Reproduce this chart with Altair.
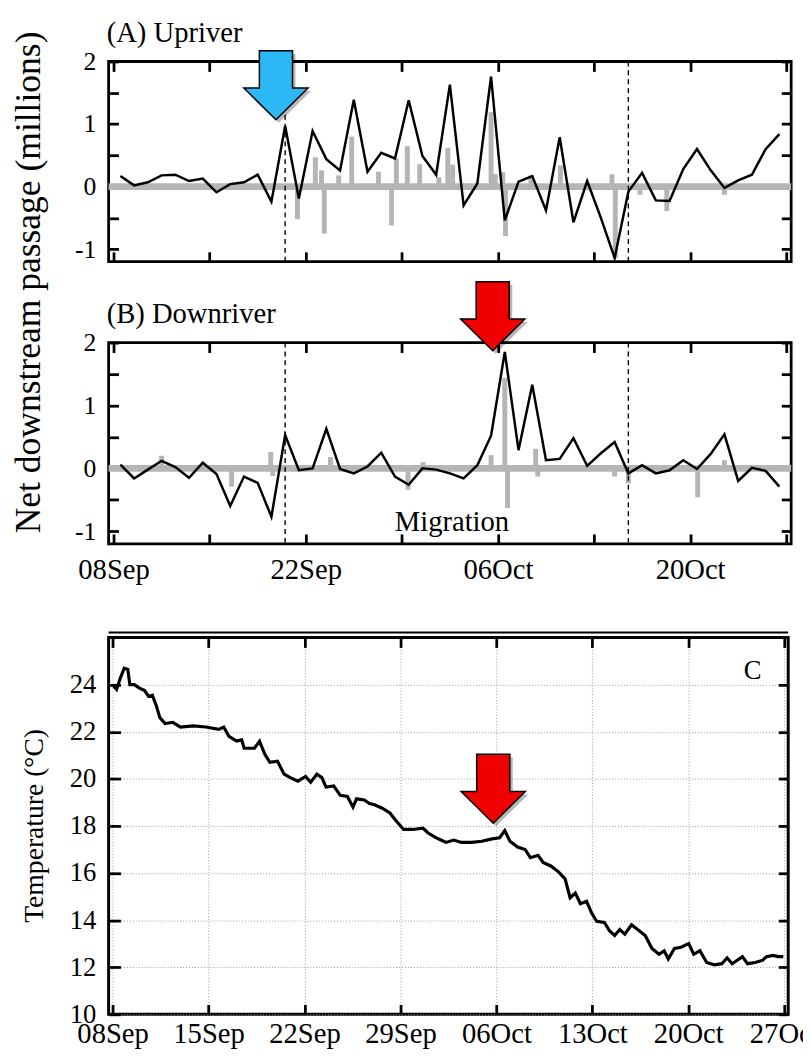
import altair as alt
import pandas as pd

FONT = "Liberation Serif"
GRAY = "#b5b5b5"
BASE = pd.Timestamp("2012-09-08")

# ---------------- data ----------------
# net downstream passage (millions), one value per day at noon, 08 Sep .. 26 Oct
upriver = [0.17, 0.02, 0.07, 0.18, 0.19, 0.09, 0.13, -0.09, 0.04, 0.07,
           0.19, -0.24, 0.97, -0.19, 0.89, 0.44, 0.26, 1.39, 0.24, 0.54,
           0.45, 1.38, 0.49, 0.19, 1.63, -0.30, 0.05, 1.76, -0.54, 0.08,
           0.17, -0.38, 0.79, -0.57, 0.09, -0.50, -1.14, -0.08, 0.22, -0.22,
           -0.23, 0.28, 0.60, 0.26, -0.02, 0.10, 0.19, 0.60, 0.84]
downriver = [0.06, -0.16, -0.02, 0.12, 0.02, -0.15, 0.09, -0.09, -0.60, -0.13,
             -0.23, -0.77, 0.53, -0.03, 0.00, 0.63, -0.01, -0.08, 0.03, 0.25,
             -0.13, -0.26, 0.00, -0.02, -0.08, -0.16, 0.05, 0.52, 1.85, 0.29,
             1.33, 0.13, 0.15, 0.48, 0.04, 0.24, 0.42, -0.08, 0.05, -0.08,
             -0.03, 0.13, -0.01, 0.23, 0.54, -0.20, 0.01, -0.04, -0.29]
daily_offset = [d + 0.5 for d in range(49)]

# grey high-frequency spikes (days after 08 Sep, millions)
up_gray_day = [13.4, 14.7, 15.15, 15.35, 16.4, 17.35, 19.3, 20.25, 20.6, 21.4,
               22.3, 23.7, 24.35, 24.7, 27.5, 27.8, 28.35, 28.55, 30.4, 32.55,
               36.3, 36.55, 38.35, 40.3, 44.5]
up_gray_val = [-0.52, 0.47, 0.26, -0.75, 0.18, 0.80, 0.24, -0.62, 0.45, 0.65,
               0.36, 0.15, 0.62, 0.35, 1.19, 0.20, 0.23, -0.79, 0.18, 0.34,
               0.20, -1.14, -0.13, -0.39, -0.13]
down_gray_day = [3.5, 8.6, 11.45, 11.6, 15.8, 21.45, 22.55, 27.5, 28.5, 28.7,
                 30.75, 30.9, 36.5, 37.5, 42.55, 44.5]
down_gray_val = [0.20, -0.29, 0.26, -0.12, 0.18, -0.34, 0.10, 0.21, 1.44, -0.63,
                 0.31, -0.13, -0.13, -0.24, -0.46, 0.13]

# migration window (dashed lines), days after 08 Sep
migration_days = [12.5, 37.5]

# temperature (deg C), days after 08 Sep
temp_day = [0.0, 0.29, 0.58, 0.85, 1.11, 1.26, 1.59, 1.96, 2.34, 2.63,
            2.90, 3.19, 3.45, 3.83, 4.39, 4.95, 5.88, 6.81, 7.74, 8.11,
            8.49, 9.05, 9.42, 9.60, 10.35, 10.72, 11.10, 11.47, 12.03, 12.51,
            12.96, 13.52, 14.08, 14.45, 14.90, 15.27, 15.57, 16.13, 16.61, 17.13,
            17.54, 17.80, 18.36, 18.74, 19.11, 19.67, 20.23, 20.71, 21.23, 21.90,
            22.65, 23.02, 23.58, 23.95, 24.33, 24.89, 25.45, 26.19, 26.94, 27.68,
            28.24, 28.61, 28.99, 29.55, 30.10, 30.48, 31.04, 31.41, 31.97, 32.53,
            33.01, 33.38, 33.76, 34.13, 34.58, 34.95, 35.32, 35.88, 36.25, 36.63,
            37.00, 37.37, 37.86, 38.30, 38.86, 39.35, 39.87, 40.24, 40.54, 40.99,
            41.47, 42.03, 42.40, 42.85, 43.34, 43.90, 44.45, 44.83, 45.20, 45.95,
            46.32, 46.88, 47.44, 47.70, 48.18, 48.56, 48.93]
temp_val = [24.0, 23.8, 24.3, 24.7, 24.65, 24.0, 24.0, 23.85, 23.75, 23.5,
            23.55, 23.1, 22.6, 22.35, 22.4, 22.2, 22.25, 22.2, 22.1, 22.2,
            21.8, 21.6, 21.65, 21.3, 21.3, 21.6, 21.05, 20.7, 20.75, 20.2,
            20.05, 19.9, 20.1, 19.85, 20.2, 20.05, 19.65, 19.7, 19.3, 19.25,
            18.8, 19.15, 19.1, 18.95, 18.9, 18.75, 18.55, 18.2, 17.85, 17.85,
            17.9, 17.7, 17.5, 17.4, 17.3, 17.4, 17.3, 17.3, 17.35, 17.45,
            17.5, 17.8, 17.35, 17.1, 17.0, 16.65, 16.75, 16.45, 16.3, 16.05,
            15.75, 14.95, 15.15, 14.7, 14.8, 14.3, 13.95, 13.9, 13.55, 13.35,
            13.6, 13.4, 13.8, 13.6, 13.35, 12.8, 12.55, 12.7, 12.35, 12.8,
            12.85, 13.0, 12.55, 12.7, 12.2, 12.1, 12.15, 12.4, 12.15, 12.45,
            12.15, 12.2, 12.3, 12.45, 12.5, 12.45, 12.45]

# ticks
week_days = [0, 7, 14, 21, 28, 35, 42, 49]
ab_label_text = ["08Sep", "22Sep", "06Oct", "20Oct"]
ab_yticks = [-1, -0.5, 0, 0.5, 1, 1.5, 2]
c_yticks = [10, 12, 14, 16, 18, 20, 22, 24]

# annotations (days after 08 Sep, value)
blue_arrow = (11.83, 1.62)
red_arrow_b = (27.62, 2.42)
red_arrow_c = (27.77, 19.58)
migration_label = (24.65, -0.85)
c_label = (46.7, 24.58)

ARROW = "M-0.48,-1L0.48,-1L0.48,0.08L0.93,0.08L0,1L-0.93,0.08L-0.48,0.08Z"


def when(days):
    return [BASE + pd.Timedelta(days=float(d)) for d in days]


def dt(days):
    t = BASE + pd.Timedelta(days=float(days))
    return alt.DateTime(year=t.year, month=t.month, date=t.day,
                        hours=t.hour, minutes=t.minute)


week_dt = [dt(d) for d in week_days]


def text_layer(s, size, **kw):
    enc = {k: v for k, v in kw.items() if k in ("x", "y")}
    mk = {k: v for k, v in kw.items() if k not in ("x", "y")}
    return alt.Chart(pd.DataFrame({"s": [s]})).mark_text(
        font=FONT, fontSize=size, color="black", **mk
    ).encode(text="s:N", **enc)


def arrow_layers(pos, color, xs, ys):
    df = pd.DataFrame({"t": when([pos[0]]), "v": [pos[1]]})
    enc = dict(x=alt.X("t:T", axis=None, scale=xs), y=alt.Y("v:Q", axis=None, scale=ys))
    shadow = alt.Chart(df).mark_point(
        shape=ARROW, filled=True, fill="#000000", strokeWidth=0, size=4900, opacity=0.28
    ).encode(xOffset=alt.value(3), yOffset=alt.value(3), **enc)
    arrow = alt.Chart(df).mark_point(
        shape=ARROW, filled=True, fill=color, stroke="black", strokeWidth=1.5,
        size=4900, opacity=1
    ).encode(**enc)
    return [shadow, arrow]


def passage_panel(label, vals, gday, gval, arrow, color, height, xlabels, extras):
    xs = alt.Scale(domain=[dt(0), dt(49)], nice=False)
    ys = alt.Scale(domain=[-1.2, 2.0], nice=False, zero=False)
    line_df = pd.DataFrame({"t": when(daily_offset), "v": vals})
    gray_df = pd.DataFrame({"t": when(gday), "v": gval})
    zero_df = pd.DataFrame({"v": [0]})
    mig_df = pd.DataFrame({"t": when(migration_days)})

    band = alt.Chart(zero_df).mark_rule(color=GRAY, strokeWidth=7).encode(
        y=alt.Y("v:Q", axis=None, scale=ys))
    bars = alt.Chart(gray_df).mark_bar(width=5, color=GRAY).encode(
        x=alt.X("t:T", axis=None, scale=xs),
        y=alt.Y("v:Q", axis=None, scale=ys),
        y2=alt.datum(0))
    dashed = alt.Chart(mig_df).mark_rule(color="black", strokeDash=[5, 4], strokeWidth=1.4).encode(
        x=alt.X("t:T", axis=None, scale=xs))

    lab_expr = "indexof(" + str(ab_label_text) + ", datum.label) >= 0 ? datum.label : ''"
    main = alt.Chart(line_df).mark_line(color="black", strokeWidth=2.5).encode(
        x=alt.X("t:T", scale=xs, title=None,
                axis=alt.Axis(orient="bottom", values=week_dt, format="%d%b",
                              labels=xlabels, labelExpr=lab_expr, labelFontSize=29,
                              labelPadding=12, labelFlush=False, labelOverlap=False,
                              tickSize=10, offset=-10, grid=False, domain=False)),
        y=alt.Y("v:Q", scale=ys, title=None,
                axis=alt.Axis(orient="left", values=ab_yticks,
                              labelExpr="datum.value % 1 == 0 ? '' + datum.value : ''",
                              labelFontSize=26, labelPadding=13, tickSize=10, offset=-10,
                              grid=False, domain=False)))
    mirror = alt.Chart(line_df).mark_line(opacity=0).encode(
        x=alt.X("t:T", scale=xs, title=None,
                axis=alt.Axis(orient="top", values=week_dt, labels=False, tickSize=10,
                              offset=-10, grid=False, domain=False)),
        y=alt.Y("v:Q", scale=ys, title=None,
                axis=alt.Axis(orient="right", values=ab_yticks, labels=False, tickSize=10,
                              offset=-10, grid=False, domain=False)))
    layers = [band, bars, dashed, main, mirror] + arrow_layers(arrow, color, xs, ys) + [
        text_layer(label, 29, x=alt.value(-2), y=alt.value(-20), align="left",
                   baseline="alphabetic")]
    for e in extras:
        layers.append(e(xs, ys))
    return alt.layer(*layers).resolve_axis(x="independent", y="independent").properties(
        width=692, height=height)


def migration_text(xs, ys):
    df = pd.DataFrame({"t": when([migration_label[0]]), "v": [migration_label[1]], "s": ["Migration"]})
    return alt.Chart(df).mark_text(font=FONT, fontSize=29, color="black", baseline="middle").encode(
        x=alt.X("t:T", axis=None, scale=xs), y=alt.Y("v:Q", axis=None, scale=ys), text="s:N")


def big_title(xs, ys):
    return text_layer("Net downstream passage (millions)", 36, x=alt.value(-81), y=alt.value(224),
                      angle=270, align="center", baseline="middle")


panel_a = passage_panel("(A) Upriver", upriver, up_gray_day, up_gray_val, blue_arrow,
                        "#2bb8f5", 203, False, [big_title])
panel_b = passage_panel("(B) Downriver", downriver, down_gray_day, down_gray_val, red_arrow_b,
                        "#f00000", 204, True, [migration_text])

# ---------------- temperature panel ----------------
xs_c = alt.Scale(domain=[dt(-0.29), dt(49.29)], nice=False)
ys_c = alt.Scale(domain=[10, 26], nice=False, zero=False)
temp_df = pd.DataFrame({"t": when(temp_day), "v": temp_val})

c_main = alt.Chart(temp_df).mark_line(color="black", strokeWidth=3.2).encode(
    x=alt.X("t:T", scale=xs_c, title=None,
            axis=alt.Axis(orient="bottom", values=week_dt, format="%d%b", labelFontSize=29,
                          labelPadding=6, labelFlush=False, labelOverlap=False,
                          tickSize=10, offset=-10, grid=True, gridColor="#9a9a9a",
                          gridDash=[1, 2], gridWidth=1, domain=False)),
    y=alt.Y("v:Q", scale=ys_c, title=None,
            axis=alt.Axis(orient="left", values=c_yticks, format="d", labelFontSize=27,
                          labelPadding=13, tickSize=12, offset=-12, grid=True,
                          gridColor="#9a9a9a", gridDash=[1, 2], gridWidth=1, domain=False)))
c_mirror = alt.Chart(temp_df).mark_line(opacity=0).encode(
    x=alt.X("t:T", scale=xs_c, title=None,
            axis=alt.Axis(orient="top", values=week_dt, labels=False, tickSize=10,
                          offset=-10, grid=False, domain=False)),
    y=alt.Y("v:Q", scale=ys_c, title=None,
            axis=alt.Axis(orient="right", values=c_yticks, labels=False, tickSize=10,
                          offset=-10, grid=False, domain=False)))
c_topline = alt.Chart(pd.DataFrame({"v": [26]})).mark_rule(color="black", strokeWidth=2).encode(
    y=alt.Y("v:Q", axis=None, scale=ys_c), yOffset=alt.value(-5))
c_letter_df = pd.DataFrame({"t": when([c_label[0]]), "v": [c_label[1]], "s": ["C"]})
c_letter = alt.Chart(c_letter_df).mark_text(font=FONT, fontSize=27, color="black").encode(
    x=alt.X("t:T", axis=None, scale=xs_c), y=alt.Y("v:Q", axis=None, scale=ys_c), text="s:N")
c_title = text_layer("Temperature (°C)", 28, x=alt.value(-75), y=alt.value(191),
                     angle=270, align="center", baseline="middle")

panel_c = alt.layer(c_main, c_mirror, c_topline, c_letter, c_title,
                    *arrow_layers(red_arrow_c, "#f00000", xs_c, ys_c)).resolve_axis(
    x="independent", y="independent").properties(
    width=689, height=382, view=alt.ViewBackground(stroke="black", strokeWidth=3))

top = alt.vconcat(panel_a, panel_b, spacing=82, bounds="flush")
chart = alt.vconcat(top, panel_c, spacing=44, bounds="full").properties(
    padding={"left": 1, "top": 2, "right": -18, "bottom": -4}
).configure(font=FONT).configure_view(stroke="black", strokeWidth=2.8).configure_axis(
    labelFont=FONT, labelColor="black", tickColor="black", tickWidth=2.8, titleFont=FONT)

chart.save("out.html", embed_options={"renderer": "svg", "actions": False})
